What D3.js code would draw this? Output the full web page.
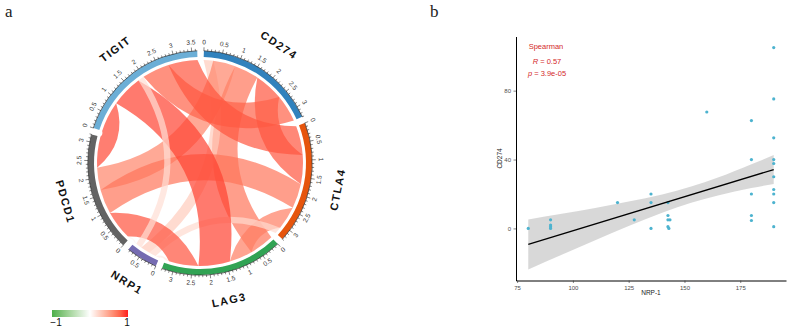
<!DOCTYPE html>
<html>
<head>
<meta charset="utf-8">
<script src="https://cdn.jsdelivr.net/npm/d3@7"></script>
<style>
  body { margin: 0; background: #fff; }
  svg { display: block; font-family: Arial, "Liberation Sans", sans-serif; }
</style>
</head>
<body>
<script>
/*
 * Two panels: (a) chord diagram of gene correlations, (b) NRP-1 vs CD274 scatter
 * with a linear fit and its confidence band.
 */

// ---- data: panel a ----
const genes = ['CD274', 'CTLA4', 'LAG3', 'NRP1', 'PDCD1', 'TIGIT'];
const geneColors = ['#3182bd', '#e6550d', '#31a354', '#756bb1', '#636363', '#6baed6'];

const linkFrom  = ['CD274', 'CD274', 'CD274', 'CD274', 'CD274', 'CTLA4', 'CTLA4', 'CTLA4',
                   'CTLA4', 'LAG3', 'LAG3', 'LAG3', 'NRP1', 'NRP1', 'PDCD1'];
const linkTo    = ['CTLA4', 'LAG3', 'NRP1', 'PDCD1', 'TIGIT', 'LAG3', 'NRP1', 'PDCD1',
                   'TIGIT', 'NRP1', 'PDCD1', 'TIGIT', 'PDCD1', 'TIGIT', 'TIGIT'];
const linkValue = [0.85, 0.72, 0.28, 0.65, 0.80, 0.68, 0.20, 0.72,
                   0.85, 0.12, 0.86, 0.92, 0.07, 0.18, 0.90];

// order of the partner genes along each sector, clockwise
const linkOrder = [
  ['NRP1', 'PDCD1', 'LAG3', 'CTLA4', 'TIGIT'],
  ['TIGIT', 'CD274', 'PDCD1', 'LAG3', 'NRP1'],
  ['CD274', 'CTLA4', 'TIGIT', 'PDCD1', 'NRP1'],
  ['LAG3', 'CTLA4', 'CD274', 'TIGIT', 'PDCD1'],
  ['NRP1', 'LAG3', 'CTLA4', 'CD274', 'TIGIT'],
  ['PDCD1', 'LAG3', 'NRP1', 'CD274', 'CTLA4']
];

const legendLabels = ['\u22121', '1'];

// ---- data: panel b ----
const nrp1  = [190, 160, 180, 190, 190, 180, 190, 190, 190, 180, 190, 190, 190, 180, 180, 190,
               135, 135, 135, 120, 127.5, 142.6, 142.6, 143.5, 142.6, 143, 142.6,
               90, 90, 90, 90, 80];
const cd274 = [105, 67.6, 62.6, 75.2, 52.6, 40, 40, 37.7, 30, 20, 22.6, 20, 15, 7.5, 4.6, 1,
               20, 15, 0, 15, 5, 7.5, 5, 5, 1, 0, 15,
               5, 2, 1, 0, 0];

const fitX = [80, 190];
const fitY = [-9.3, 34.2];

const bandX    = [80, 95, 110, 125, 140, 153, 165, 180, 190];
const bandHigh = [5.2, 8.5, 11.9, 15.6, 19.7, 24.3, 29.5, 37.2, 42.6];
const bandLow  = [-23.8, -15.3, -6.8, 1.4, 9.1, 14.9, 19.1, 23.4, 25.8];

const xTicks = [75, 100, 125, 150, 175];
const yTicks = [0, 40, 80];
const statLines = ['Spearman', 'R = 0.57', 'p = 3.9e-05'];

// ---- layout ----
const WIDTH = 789;
const HEIGHT = 327;

const CX = 200;
const CY = 163;
const R_LINK = 103;
const R_TRACK_IN = 106;
const R_TRACK_OUT = 112;
const R_TICK_LABEL = 120.5;
const R_NAME = 141;
const START_DEG = 2;
const GAP_DEG = 3.4;
const H_RATIO = 0.33;

const PLOT_LEFT = 516;
const PLOT_RIGHT = 786;
const PLOT_TOP = 36.5;
const PLOT_BOT = 280.5;

const COLOR_LOW = '#4daf4a';
const COLOR_HIGH = '#ff1f1f';
const COLOR_POINT = '#4db3cf';
const COLOR_STAT = '#d42a2a';

const valueColor = d3.scaleLinear()
    .domain([-1, 0, 1])
    .range([COLOR_LOW, '#ffffff', COLOR_HIGH])
    .interpolate(d3.interpolateLab);

// rotation so that text along the circle stays readable
const niceRotation = deg => {
  const a = ((deg % 360) + 360) % 360;
  return (a > 90 && a < 270) ? a - 180 : a;
};

const polar = (r, rad) => [r * Math.sin(rad), -r * Math.cos(rad)];

// control point of a link edge: pulled from the chord midpoint towards the
// centre by H_RATIO times the chord length (circlize-like link shape)
const controlPoint = (a, b, r) => {
  const [x1, y1] = polar(r, a);
  const [x2, y2] = polar(r, b);
  const mx = (x1 + x2) / 2;
  const my = (y1 + y2) / 2;
  const d = Math.hypot(x2 - x1, y2 - y1);
  const delta = ((b - a + 3 * Math.PI) % (2 * Math.PI)) - Math.PI;
  const mid = a + delta / 2;
  return [mx - H_RATIO * d * Math.sin(mid), my + H_RATIO * d * Math.cos(mid)];
};

const linkPath = (s, t, r) => {
  const p = d3.path();
  const [sx, sy] = polar(r, s[0]);
  p.moveTo(sx, sy);
  p.arc(0, 0, r, s[0] - Math.PI / 2, s[1] - Math.PI / 2);
  let c = controlPoint(s[1], t[0], r);
  let e = polar(r, t[0]);
  p.quadraticCurveTo(c[0], c[1], e[0], e[1]);
  p.arc(0, 0, r, t[0] - Math.PI / 2, t[1] - Math.PI / 2);
  c = controlPoint(t[1], s[0], r);
  p.quadraticCurveTo(c[0], c[1], sx, sy);
  p.closePath();
  return p.toString();
};

const svg = d3.select('body')
  .append('svg')
    .attr('width', WIDTH)
    .attr('height', HEIGHT);

/*
 * Panel letters.
 */
const addPanelLetters = () => {
  svg.selectAll('text.panel')
    .data([['a', 5], ['b', 430]])
    .join('text')
      .attr('class', 'panel')
      .attr('x', d => d[1])
      .attr('y', 17)
      .attr('font-family', '"Liberation Serif", "DejaVu Serif", serif')
      .attr('font-size', 17)
      .attr('fill', '#222')
      .text(d => d[0]);
};

/*
 * Panel a: chord diagram.
 */
const addChord = () => {
  const g = svg.append('g')
      .attr('transform', `translate(${CX},${CY})`);

  const totals = genes.map(name =>
    d3.sum(linkValue.filter((v, i) => linkFrom[i] === name || linkTo[i] === name)));

  const gapRad = GAP_DEG * Math.PI / 180;
  const unit = (2 * Math.PI - genes.length * gapRad) / d3.sum(totals);

  const sectors = [];
  let angle = START_DEG * Math.PI / 180;
  genes.forEach((name, i) => {
    sectors.push({ name, color: geneColors[i], total: totals[i],
                   start: angle, end: angle + totals[i] * unit });
    angle += totals[i] * unit + gapRad;
  });

  // where each link lands on each sector
  const ends = {};
  sectors.forEach((s, si) => {
    let pos = s.start;
    linkOrder[si].forEach(other => {
      const idx = linkFrom.findIndex((f, i) =>
        (f === s.name && linkTo[i] === other) || (f === other && linkTo[i] === s.name));
      const w = linkValue[idx] * unit;
      ends[s.name + '|' + other] = [pos, pos + w];
      pos += w;
    });
  });

  // links
  g.selectAll('path.link')
    .data(linkValue)
    .join('path')
      .attr('class', 'link')
      .attr('d', (v, i) => linkPath(ends[linkFrom[i] + '|' + linkTo[i]],
                                    ends[linkTo[i] + '|' + linkFrom[i]], R_LINK))
      .attr('fill', v => valueColor(v))
      .attr('fill-opacity', 0.7);

  // sector tracks
  const arc = d3.arc()
      .innerRadius(R_TRACK_IN)
      .outerRadius(R_TRACK_OUT);

  g.selectAll('path.track')
    .data(sectors)
    .join('path')
      .attr('class', 'track')
      .attr('d', s => arc({ startAngle: s.start, endAngle: s.end }))
      .attr('fill', s => s.color);

  // axis baseline
  g.selectAll('path.base')
    .data(sectors)
    .join('path')
      .attr('class', 'base')
      .attr('d', s => {
        const p = d3.path();
        p.arc(0, 0, R_TRACK_OUT + 0.3, s.start - Math.PI / 2, s.end - Math.PI / 2);
        return p.toString();
      })
      .attr('fill', 'none')
      .attr('stroke', '#111')
      .attr('stroke-width', 0.6);

  // ticks and tick labels
  const ticks = [];
  sectors.forEach(s => {
    const n = Math.floor(s.total * 10 + 1e-6);
    for (let k = 0; k <= n; k++) {
      ticks.push({ a: s.start + (k / 10) * unit, major: k % 5 === 0, label: String(k / 10) });
    }
  });

  g.selectAll('line.tick')
    .data(ticks)
    .join('line')
      .attr('class', 'tick')
      .attr('x1', d => polar(R_TRACK_OUT, d.a)[0])
      .attr('y1', d => polar(R_TRACK_OUT, d.a)[1])
      .attr('x2', d => polar(R_TRACK_OUT + (d.major ? 3.8 : 2.2), d.a)[0])
      .attr('y2', d => polar(R_TRACK_OUT + (d.major ? 3.8 : 2.2), d.a)[1])
      .attr('stroke', '#111')
      .attr('stroke-width', 0.5);

  g.selectAll('text.tick-label')
    .data(ticks.filter(d => d.major))
    .join('text')
      .attr('class', 'tick-label')
      .attr('transform', d => {
        const [x, y] = polar(R_TICK_LABEL, d.a);
        return `translate(${x},${y}) rotate(${niceRotation(d.a * 180 / Math.PI)})`;
      })
      .attr('text-anchor', 'middle')
      .attr('dominant-baseline', 'middle')
      .attr('font-size', 6.5)
      .attr('fill', '#333')
      .text(d => d.label);

  // sector names
  g.selectAll('text.name')
    .data(sectors)
    .join('text')
      .attr('class', 'name')
      .attr('transform', s => {
        const mid = (s.start + s.end) / 2;
        const [x, y] = polar(R_NAME, mid);
        return `translate(${x},${y}) rotate(${niceRotation(mid * 180 / Math.PI)})`;
      })
      .attr('text-anchor', 'middle')
      .attr('dominant-baseline', 'middle')
      .attr('font-size', 11)
      .attr('font-weight', 'bold')
      .attr('letter-spacing', 1.5)
      .attr('fill', '#111')
      .text(s => s.name);
};

/*
 * Colour legend for the chord links.
 */
const addLegend = () => {
  const grad = svg.append('defs')
    .append('linearGradient')
      .attr('id', 'legend-grad');

  d3.range(0, 1.0001, 0.1).forEach(t => {
    grad.append('stop')
        .attr('offset', t)
        .attr('stop-color', valueColor(-1 + 2 * t));
  });

  svg.append('rect')
      .attr('x', 52)
      .attr('y', 310)
      .attr('width', 76)
      .attr('height', 7)
      .attr('fill', 'url(#legend-grad)');

  svg.selectAll('text.legend')
    .data(legendLabels)
    .join('text')
      .attr('class', 'legend')
      .attr('x', (d, i) => i === 0 ? 56 : 127)
      .attr('y', 326)
      .attr('text-anchor', 'middle')
      .attr('font-size', 10)
      .attr('fill', '#111')
      .text(d => d);
};

/*
 * Panel b: scatterplot with a linear fit.
 */
const addScatter = () => {
  const expand = ([lo, hi]) => [lo - (hi - lo) * 0.05, hi + (hi - lo) * 0.05];

  const xScale = d3.scaleLinear()
      .domain(expand(d3.extent(nrp1)))
      .range([PLOT_LEFT, PLOT_RIGHT]);

  const yScale = d3.scaleLinear()
      .domain(expand(d3.extent(cd274.concat(bandLow, bandHigh))))
      .range([PLOT_BOT, PLOT_TOP]);

  // confidence band
  const area = d3.area()
      .x((d, i) => xScale(bandX[i]))
      .y0((d, i) => yScale(bandLow[i]))
      .y1((d, i) => yScale(bandHigh[i]))
      .curve(d3.curveMonotoneX);

  svg.append('path')
      .attr('d', area(bandX))
      .attr('fill', '#999')
      .attr('fill-opacity', 0.38);

  // points
  svg.selectAll('circle.dot')
    .data(nrp1)
    .join('circle')
      .attr('class', 'dot')
      .attr('cx', d => xScale(d))
      .attr('cy', (d, i) => yScale(cd274[i]))
      .attr('r', 1.6)
      .attr('fill', COLOR_POINT);

  // fitted line
  svg.append('line')
      .attr('x1', xScale(fitX[0]))
      .attr('y1', yScale(fitY[0]))
      .attr('x2', xScale(fitX[1]))
      .attr('y2', yScale(fitY[1]))
      .attr('stroke', '#000')
      .attr('stroke-width', 1.3);

  // axes
  const xAxis = d3.axisBottom(xScale)
      .tickValues(xTicks)
      .tickSizeInner(2.5)
      .tickSizeOuter(0)
      .tickPadding(2.5);

  const yAxis = d3.axisLeft(yScale)
      .tickValues(yTicks)
      .tickSizeInner(2.5)
      .tickSizeOuter(0)
      .tickPadding(2.5);

  const gx = svg.append('g')
      .attr('transform', `translate(0,${PLOT_BOT})`)
      .call(xAxis);

  const gy = svg.append('g')
      .attr('transform', `translate(${PLOT_LEFT},0)`)
      .call(yAxis);

  [gx, gy].forEach(ax => {
    ax.select('.domain').attr('stroke', '#000').attr('stroke-width', 1);
    ax.selectAll('.tick line').attr('stroke', '#333').attr('stroke-width', 0.6);
    ax.selectAll('.tick text')
        .attr('font-family', 'Arial, "Liberation Sans", sans-serif')
        .attr('font-size', 6)
        .attr('fill', '#4d4d4d');
  });

  // axis titles
  svg.append('text')
      .attr('x', (PLOT_LEFT + PLOT_RIGHT) / 2)
      .attr('y', 294.5)
      .attr('text-anchor', 'middle')
      .attr('font-size', 6.5)
      .attr('fill', '#222')
      .text('NRP-1');

  svg.append('text')
      .attr('transform', `translate(502,${(PLOT_TOP + PLOT_BOT) / 2}) rotate(-90)`)
      .attr('text-anchor', 'middle')
      .attr('font-size', 6.5)
      .attr('fill', '#222')
      .text('CD274');

  // correlation annotation
  const stat = svg.append('g')
      .attr('fill', COLOR_STAT)
      .attr('font-size', 7.5)
      .attr('text-anchor', 'middle');

  stat.append('text')
      .attr('x', 546)
      .attr('y', 49)
      .text(statLines[0]);

  const r = stat.append('text')
      .attr('x', 547)
      .attr('y', 64);
  r.append('tspan').attr('font-style', 'italic').text(statLines[1].slice(0, 1));
  r.append('tspan').text(statLines[1].slice(1));

  const p = stat.append('text')
      .attr('x', 547)
      .attr('y', 76);
  p.append('tspan').attr('font-style', 'italic').text(statLines[2].slice(0, 1));
  p.append('tspan').text(statLines[2].slice(1));
};

addPanelLetters();
addChord();
addLegend();
addScatter();
</script>
</body>
</html>
